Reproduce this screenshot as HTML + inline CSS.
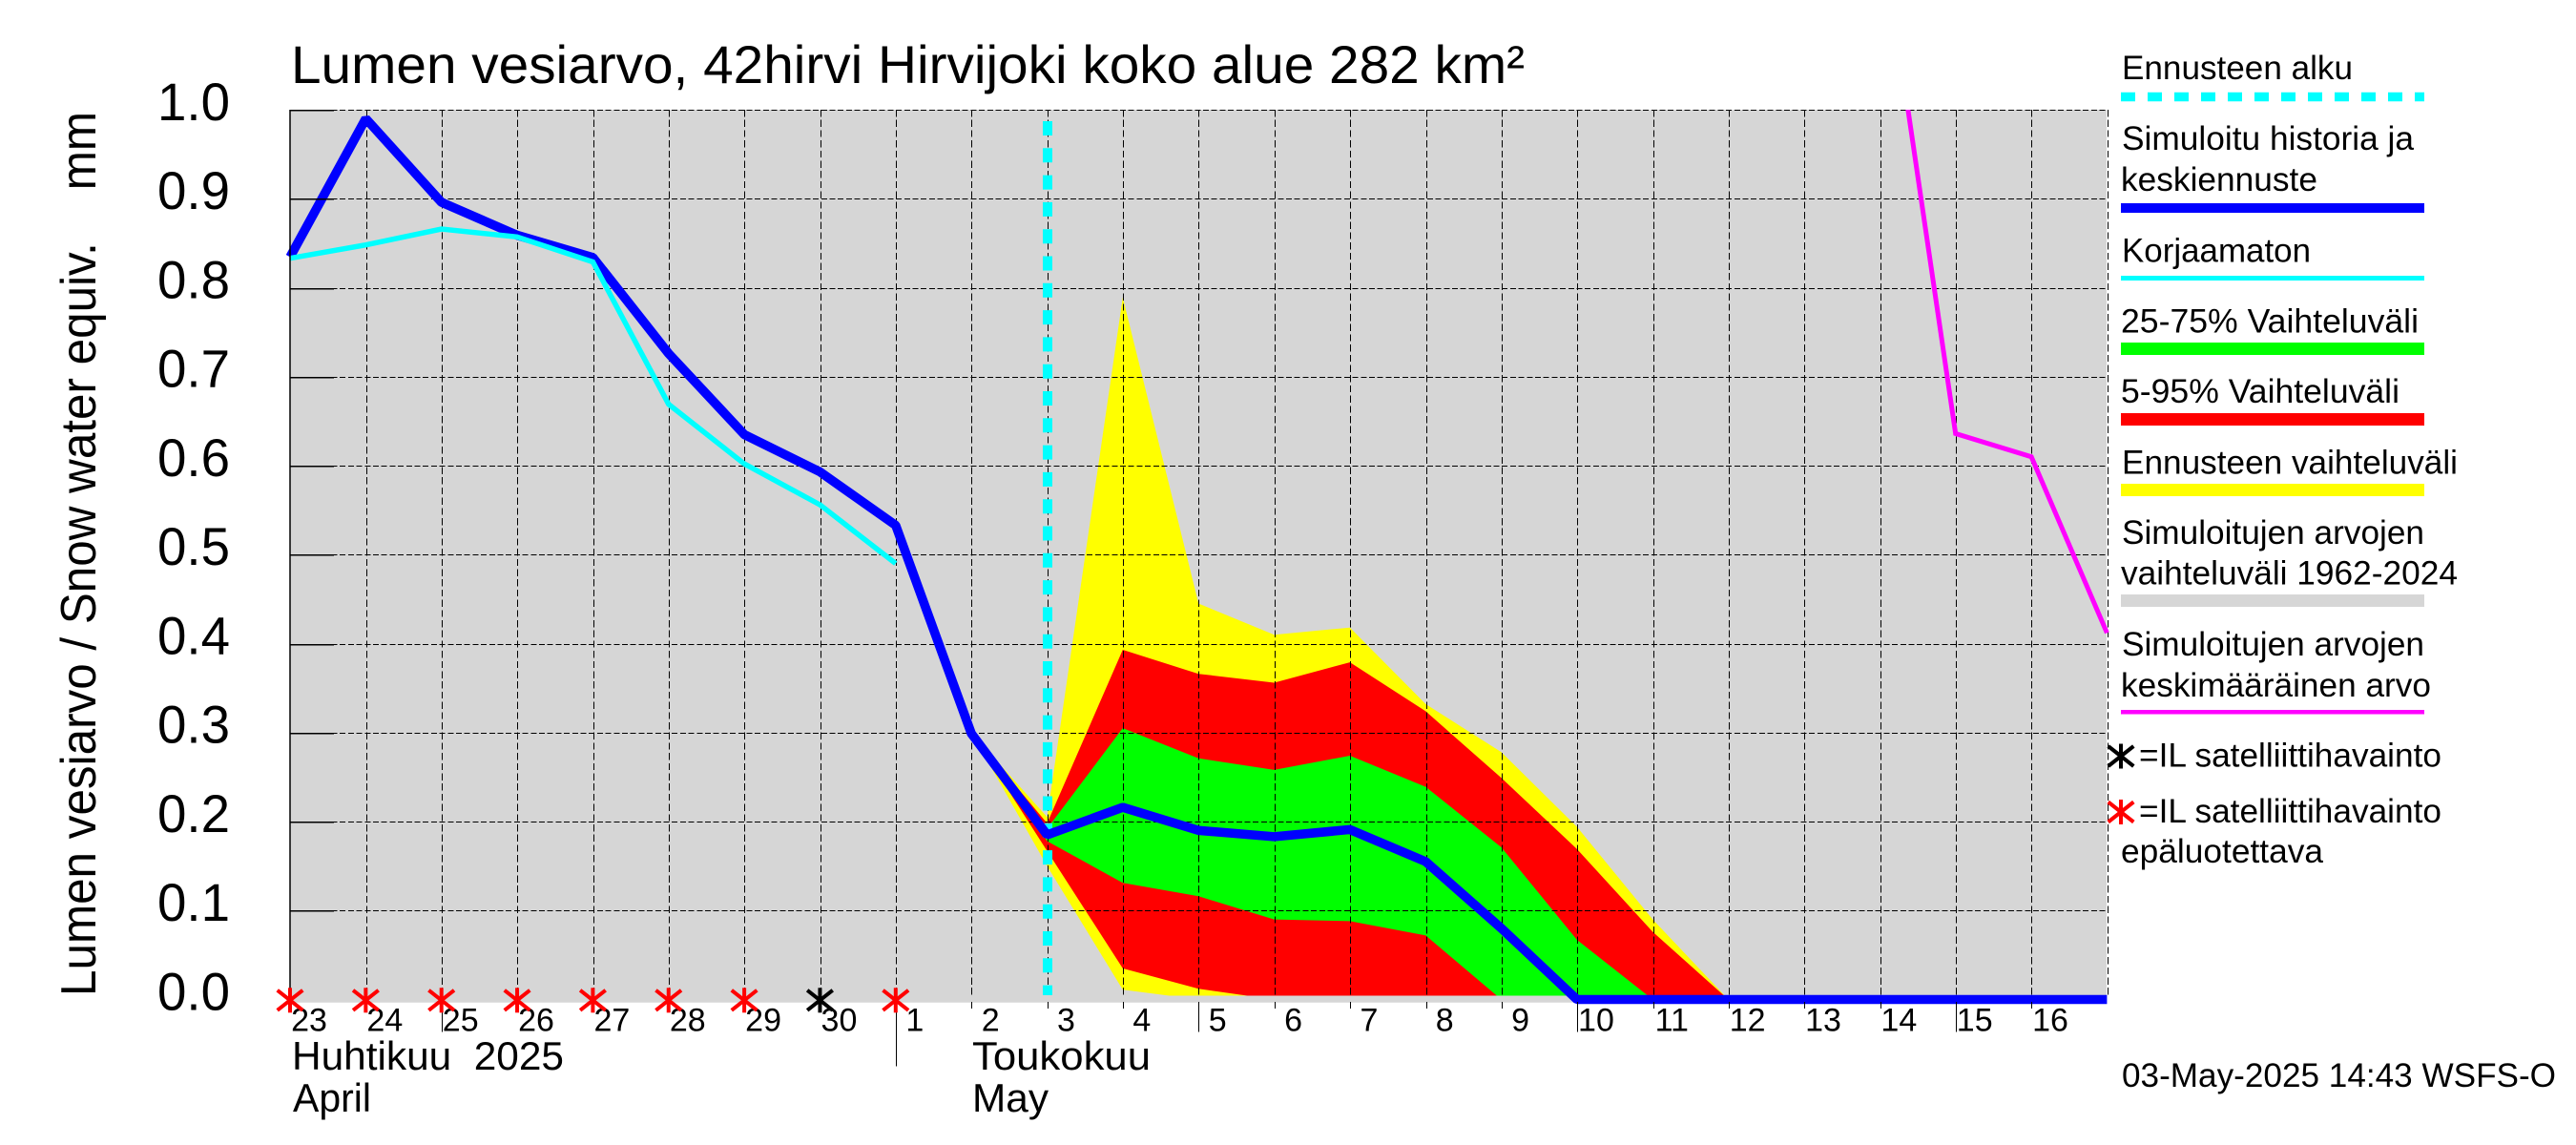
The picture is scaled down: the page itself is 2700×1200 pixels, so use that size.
<!DOCTYPE html>
<html lang="fi">
<head>
<meta charset="utf-8">
<title>Lumen vesiarvo</title>
<style>
html,body{margin:0;padding:0;background:#fff;width:2700px;height:1200px;overflow:hidden}
svg{display:block}
text{font-family:"Liberation Sans",Arial,sans-serif;fill:#000}
.leg{font-size:35px}
</style>
</head>
<body>
<svg id="chart" xmlns="http://www.w3.org/2000/svg" width="2700" height="1200" viewBox="0 0 2700 1200">
  <rect x="0" y="0" width="2700" height="1200" fill="#fff"/>
  <defs>
    <clipPath id="fillClip"><rect x="304" y="115" width="1904" height="928.5"/></clipPath>
    <clipPath id="plotClip"><rect x="296" y="115" width="1916" height="945"/></clipPath>
  </defs>
  <rect x="304" y="115" width="1904" height="935.7" fill="#d6d6d6"/>
  <g id="fills" clip-path="url(#fillClip)"></g>
  <g id="grid"></g>
  <g id="lines"></g>
  <g id="axes"></g>
  <g id="markers"></g>

  <text x="305" y="87" font-size="56" textLength="1293" lengthAdjust="spacingAndGlyphs">Lumen vesiarvo, 42hirvi Hirvijoki koko alue 282 km²</text>
  <text transform="translate(100 1044) rotate(-90)" x="0" y="0" font-size="52" textLength="927" lengthAdjust="spacingAndGlyphs" xml:space="preserve">Lumen vesiarvo / Snow water equiv.    mm</text>

  <text x="306" y="1121" font-size="42" textLength="285" lengthAdjust="spacingAndGlyphs" xml:space="preserve">Huhtikuu  2025</text>
  <text x="307" y="1165" font-size="42" textLength="82" lengthAdjust="spacingAndGlyphs">April</text>
  <text x="1019" y="1121" font-size="42" textLength="187" lengthAdjust="spacingAndGlyphs">Toukokuu</text>
  <text x="1019" y="1165" font-size="42" textLength="80" lengthAdjust="spacingAndGlyphs">May</text>

  <g>
    <text class="leg" x="2224" y="83" textLength="242" lengthAdjust="spacingAndGlyphs">Ennusteen alku</text>
    <line x1="2223" y1="101.5" x2="2541" y2="101.5" stroke="#00ffff" stroke-width="9.5" stroke-dasharray="15 13"/>
    <text class="leg" x="2224" y="157" textLength="306" lengthAdjust="spacingAndGlyphs">Simuloitu historia ja</text>
    <text class="leg" x="2223" y="200" textLength="206" lengthAdjust="spacingAndGlyphs">keskiennuste</text>
    <rect x="2223" y="213" width="318" height="10" fill="#0000ff"/>
    <text class="leg" x="2224" y="274.5" textLength="198" lengthAdjust="spacingAndGlyphs">Korjaamaton</text>
    <rect x="2223" y="289" width="318" height="5" fill="#00ffff"/>
    <text class="leg" x="2223" y="348.5" textLength="312" lengthAdjust="spacingAndGlyphs">25-75% Vaihteluväli</text>
    <rect x="2223" y="359" width="318" height="13" fill="#00ff00"/>
    <text class="leg" x="2223" y="422" textLength="292" lengthAdjust="spacingAndGlyphs">5-95% Vaihteluväli</text>
    <rect x="2223" y="433" width="318" height="13" fill="#ff0000"/>
    <text class="leg" x="2224" y="496.5" textLength="352" lengthAdjust="spacingAndGlyphs">Ennusteen vaihteluväli</text>
    <rect x="2223" y="507" width="318" height="13" fill="#ffff00"/>
    <text class="leg" x="2224" y="570" textLength="317" lengthAdjust="spacingAndGlyphs">Simuloitujen arvojen</text>
    <text class="leg" x="2223" y="612.5" textLength="353" lengthAdjust="spacingAndGlyphs">vaihteluväli 1962-2024</text>
    <rect x="2223" y="623" width="318" height="13" fill="#d6d6d6"/>
    <text class="leg" x="2224" y="687" textLength="317" lengthAdjust="spacingAndGlyphs">Simuloitujen arvojen</text>
    <text class="leg" x="2223" y="730" textLength="325" lengthAdjust="spacingAndGlyphs">keskimääräinen arvo</text>
    <rect x="2223" y="744" width="318" height="4.5" fill="#ff00ff"/>
    <g stroke="#000" stroke-width="4">
      <line x1="2223" y1="779.5" x2="2223" y2="805.5"/><line x1="2209.7" y1="782" x2="2236.3" y2="803"/><line x1="2209.7" y1="803" x2="2236.3" y2="782"/>
    </g>
    <text class="leg" x="2242" y="803.5" textLength="317" lengthAdjust="spacingAndGlyphs">=IL satelliittihavainto</text>
    <g stroke="#ff0000" stroke-width="4">
      <line x1="2223" y1="838" x2="2223" y2="864"/><line x1="2209.7" y1="840.5" x2="2236.3" y2="861.5"/><line x1="2209.7" y1="861.5" x2="2236.3" y2="840.5"/>
    </g>
    <text class="leg" x="2242" y="862" textLength="317" lengthAdjust="spacingAndGlyphs">=IL satelliittihavainto</text>
    <text class="leg" x="2223" y="904" textLength="212" lengthAdjust="spacingAndGlyphs">epäluotettava</text>
  </g>
  <text class="leg" x="2224" y="1139" textLength="455" lengthAdjust="spacingAndGlyphs">03-May-2025 14:43 WSFS-O</text>
</svg>
<script>
// ---- data ----
const dayLabels = ['23','24','25','26','27','28','29','30','1','2','3','4','5','6','7','8','9','10','11','12','13','14','15','16'];
const yTickLabels = ['0.0','0.1','0.2','0.3','0.4','0.5','0.6','0.7','0.8','0.9','1.0'];
const yTickValues = [0,0.1,0.2,0.3,0.4,0.5,0.6,0.7,0.8,0.9,1];
const longTickDays = ['25','5','10','15'];
const monthTickDay = 8;
const forecastStartDay = 10;
const simulatedDays = [0,1,2,3,4,5,6,7,8,9,10,11,12,13,14,15,16,17,18,19,20,21,22,23,24];
const simulatedValues = [0.8345,0.99,0.896,0.859,0.834,0.726,0.635,0.593,0.533,0.299,0.185,0.216,0.19,0.183,0.191,0.155,0.08,0,0,0,0,0,0,0,0];
const uncorrectedDays = [0,1,2,3,4,5,6,7,8];
const uncorrectedValues = [0.833,0.848,0.866,0.857,0.829,0.669,0.602,0.556,0.49];
const meanDays = [21,22,23,24];
const meanValues = [1.216,0.636,0.61,0.412];
const bandDays = [9,10,11,12,13,14,15,16,17,18,19];
const yellowHigh = [0.30,0.205,0.789,0.445,0.41,0.418,0.332,0.278,0.194,0.09,0];
const yellowLow  = [0.30,0.15,0.011,0,0,0,0,0,0,0,0];
const redHigh    = [0.30,0.198,0.393,0.366,0.356,0.379,0.324,0.249,0.169,0.076,0];
const redLow     = [0.30,0.167,0.035,0.012,0,0,0,0,0,0,0];
const greenHigh  = [0.30,0.192,0.305,0.271,0.258,0.274,0.239,0.171,0.067,0,0];
const greenLow   = [0.30,0.178,0.131,0.116,0.09,0.088,0.072,0,0,0,0];
const unreliableObsDays = [0,1,2,3,4,5,6,8];
const reliableObsDays = [7];
const obsValue = 0;

// ---- axis functions ----
const NS = 'http://www.w3.org/2000/svg';
function X(d){ return 304 + 79.35 * d; }
function Y(v){ return 115 + (1 - v) * 932.5; }
function make(tag, parent){
  const el = document.createElementNS(NS, tag);
  parent.appendChild(el);
  return el;
}
function linePts(days, vals){
  return days.map((d,i) => X(d).toFixed(1) + ',' + Y(vals[i]).toFixed(1)).join(' ');
}
function bandPts(days, hi, lo){
  const up = days.map((d,i) => X(d).toFixed(1) + ',' + Y(hi[i]).toFixed(1));
  const dn = days.map((d,i) => X(d).toFixed(1) + ',' + Y(lo[i]).toFixed(1)).reverse();
  return up.concat(dn).join(' ');
}
const fills = document.getElementById('fills');
const grid = document.getElementById('grid');
const lines = document.getElementById('lines');
const markers = document.getElementById('markers');
const axes = document.getElementById('axes');

// bands
const yellowBand = make('polygon', fills);


yellowBand.setAttribute('points', bandPts(bandDays, yellowHigh, yellowLow));
yellowBand.setAttribute('fill', '#ffff00');
const redBand = make('polygon', fills);


redBand.setAttribute('points', bandPts(bandDays, redHigh, redLow));
redBand.setAttribute('fill', '#ff0000');
const greenBand = make('polygon', fills);


greenBand.setAttribute('points', bandPts(bandDays, greenHigh, greenLow));
greenBand.setAttribute('fill', '#00ff00');

// horizontal grid lines and y ticks
yTickValues.forEach((v, i) => {
  const y = Math.round(Y(v)) + 0.5;
  if (v > 0) {
    const g = make('line', grid);
    
    
    g.setAttribute('x1', 304);
    g.setAttribute('x2', 2208);
    g.setAttribute('y1', y);
    g.setAttribute('y2', y);
    g.setAttribute('stroke', '#000');
    g.setAttribute('stroke-width', '1');
    g.setAttribute('stroke-dasharray', '6 2.7');
    g.setAttribute('shape-rendering', 'crispEdges');
    const t = make('line', axes);
    
    
    t.setAttribute('x1', 304);
    t.setAttribute('x2', 350);
    t.setAttribute('y1', y);
    t.setAttribute('y2', y);
    t.setAttribute('stroke', '#000');
    t.setAttribute('stroke-width', '1.5');
    t.setAttribute('shape-rendering', 'crispEdges');
  }
  const lab = make('text', axes);
  
  
  lab.setAttribute('x', 165);
  lab.setAttribute('y', Y(v) + 10.8);
  lab.setAttribute('font-size', '56');
  lab.setAttribute('textLength', '76');
  lab.setAttribute('lengthAdjust', 'spacingAndGlyphs');
  lab.textContent = yTickLabels[i];
});

// left axis
const leftAxis = make('line', axes);


leftAxis.setAttribute('x1', 304);
leftAxis.setAttribute('x2', 304);
leftAxis.setAttribute('y1', 115);
leftAxis.setAttribute('y2', 1050);
leftAxis.setAttribute('stroke', '#000');
leftAxis.setAttribute('stroke-width', '1.5');

// vertical grid lines, x ticks and labels
for (let d = 0; d <= 24; d++) {
  const x = Math.round(X(d) + 0.3) + 0.5;
  if (d > 0) {
    const g = make('line', grid);
    
    
    g.setAttribute('x1', x);
    g.setAttribute('x2', x);
    g.setAttribute('y1', 115);
    g.setAttribute('y2', 1043);
    g.setAttribute('stroke', '#000');
    g.setAttribute('stroke-width', '1');
    g.setAttribute('stroke-dasharray', '7.3 3.4');
    g.setAttribute('shape-rendering', 'crispEdges');
  }
  if (d < dayLabels.length) {
    const label = dayLabels[d];
    let end = 1057;
    if (longTickDays.includes(label) ) end = 1081.7;
    if (d === monthTickDay) end = 1117.7;
    const t = make('line', axes);
    
    
    t.setAttribute('x1', x);
    t.setAttribute('x2', x);
    t.setAttribute('y1', 1050);
    t.setAttribute('y2', end);
    t.setAttribute('stroke', '#000');
    t.setAttribute('stroke-width', '1');
    t.setAttribute('shape-rendering', 'crispEdges');
    const lab = make('text', axes);
    
    
    lab.setAttribute('x', X(d) + 20);
    lab.setAttribute('y', 1080.7);
    lab.setAttribute('font-size', '34');
    lab.setAttribute('text-anchor', 'middle');
    lab.textContent = label;
  }
}

// forecast start marker
const startLine = make('line', lines);


startLine.setAttribute('x1', X(forecastStartDay) + 0.5);
startLine.setAttribute('x2', X(forecastStartDay) + 0.5);
startLine.setAttribute('y1', 115);
startLine.setAttribute('y2', 1043);
startLine.setAttribute('stroke', '#00ffff');
startLine.setAttribute('stroke-width', '10');
startLine.setAttribute('stroke-dasharray', '15 13.3');
startLine.setAttribute('stroke-dashoffset', '-12');

// series lines
const meanLine = make('polyline', lines);


meanLine.setAttribute('points', linePts(meanDays, meanValues));
meanLine.setAttribute('fill', 'none');
meanLine.setAttribute('stroke', '#ff00ff');
meanLine.setAttribute('stroke-width', '5');
meanLine.setAttribute('clip-path', 'url(#plotClip)');
const simLine = make('polyline', lines);


simLine.setAttribute('points', linePts(simulatedDays, simulatedValues));
simLine.setAttribute('fill', 'none');
simLine.setAttribute('stroke', '#0000ff');
simLine.setAttribute('stroke-width', '9.6');
simLine.setAttribute('stroke-linejoin', 'bevel');
const uncLine = make('polyline', lines);


uncLine.setAttribute('points', linePts(uncorrectedDays, uncorrectedValues));
uncLine.setAttribute('fill', 'none');
uncLine.setAttribute('stroke', '#00ffff');
uncLine.setAttribute('stroke-width', '5.5');

// observation markers
function star(d, colour){
  const g = make('g', markers);
  g.setAttribute('stroke', colour);
  g.setAttribute('stroke-width', '4');
  const cx = X(d), cy = Y(obsValue) + 0.8;
  const a = make('line', g);
  a.setAttribute('x1', cx); a.setAttribute('x2', cx);
  a.setAttribute('y1', cy - 13); a.setAttribute('y2', cy + 13);
  const b = make('line', g);
  b.setAttribute('x1', cx - 13.3); b.setAttribute('x2', cx + 13.3);
  b.setAttribute('y1', cy - 10.5); b.setAttribute('y2', cy + 10.5);
  const c = make('line', g);
  c.setAttribute('x1', cx - 13.3); c.setAttribute('x2', cx + 13.3);
  c.setAttribute('y1', cy + 10.5); c.setAttribute('y2', cy - 10.5);
  return g;
}
unreliableObsDays.forEach(d => {
  const s = star(d, '#ff0000');
  
  
});
reliableObsDays.forEach(d => {
  const s = star(d, '#000000');
  
  
});
</script>
</body>
</html>
